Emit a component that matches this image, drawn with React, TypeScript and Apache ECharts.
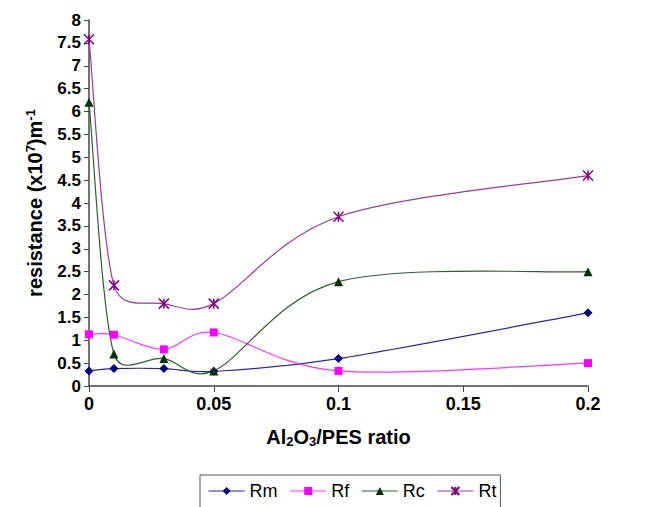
import React, { useEffect, useRef } from "react";
import * as echarts from "echarts";

const ratios = [0, 0.01, 0.03, 0.05, 0.1, 0.2];
const rm = [0.33, 0.38, 0.38, 0.32, 0.6, 1.6];
const rf = [1.13, 1.12, 0.8, 1.17, 0.33, 0.5];
const rc = [6.2, 0.7, 0.6, 0.33, 2.28, 2.5];
const rt = [7.58, 2.2, 1.8, 1.8, 3.7, 4.6];
const seriesNames = ["Rm", "Rf", "Rc", "Rt"];

const pair = (ys: number[]) => ratios.map((x, i) => [x, ys[i]]);

// Excel-style smoothed bezier path through pixel points
function excelSmoothPath(pts: number[][]): string {
  const dist = (a: number[], b: number[]) => Math.hypot(a[0] - b[0], a[1] - b[1]);
  let d = `M${pts[0][0]},${pts[0][1]}`;
  const n = pts.length;
  for (let i = 0; i < n - 1; i++) {
    const p0 = pts[Math.max(0, i - 1)];
    const p1 = pts[i];
    const p2 = pts[i + 1];
    const p3 = pts[Math.min(n - 1, i + 2)];
    const d12 = dist(p1, p2);
    const d02 = dist(p0, p2);
    const d13 = dist(p1, p3);
    let f1 = 1 / 6;
    let f2 = 1 / 6;
    if (d02 / 6 >= d12 / 2 && d02 > 0) f1 = d12 / (2 * d02);
    if (d13 / 6 >= d12 / 2 && d13 > 0) f2 = d12 / (2 * d13);
    const c1 = [p1[0] + (p2[0] - p0[0]) * f1, p1[1] + (p2[1] - p0[1]) * f1];
    const c2 = [p2[0] - (p3[0] - p1[0]) * f2, p2[1] - (p3[1] - p1[1]) * f2];
    d += ` C${c1[0]},${c1[1]} ${c2[0]},${c2[1]} ${p2[0]},${p2[1]}`;
  }
  return d;
}

export default function App() {
  const ref = useRef<HTMLDivElement>(null);
  useEffect(() => {
    if (!ref.current) return;
    const chart = echarts.init(ref.current, undefined, { renderer: "svg" });
    const font = "'Liberation Sans', Arial, sans-serif";
    const star = "path://M0,0L10,10M10,0L0,10M5,0L5,10";

    const defs = [
      { name: "Rm", ys: rm, symbol: "diamond", size: 9, mark: "#000080", line: "#2a2a9a" },
      { name: "Rf", ys: rf, symbol: "rect", size: 8, mark: "#ff00ff", line: "#ff33ff" },
      { name: "Rc", ys: rc, symbol: "triangle", size: 9, mark: "#003300", line: "#2f5f2f" },
      { name: "Rt", ys: rt, symbol: star, size: 10, mark: "#800080", line: "#9a3a9a" },
    ];

    const markerSeries = defs.map((s) => ({
      name: s.name,
      type: "line",
      data: pair(s.ys),
      symbol: s.symbol,
      symbolSize: s.size,
      z: 3,
      itemStyle:
        s.symbol === star
          ? { color: s.mark, borderColor: s.mark, borderWidth: 1.5 }
          : { color: s.mark },
      lineStyle: { color: s.line, width: 1.2, opacity: 0 },
    }));

    const curveSeries = defs.map((s) => ({
      name: s.name + "-curve",
      type: "custom",
      coordinateSystem: "cartesian2d",
      z: 1,
      silent: true,
      data: [[ratios[0], s.ys[0]]],
      renderItem: (params: any, api: any) => {
        if (params.dataIndex !== 0) return null;
        const pts = ratios.map((x, i) => api.coord([x, s.ys[i]]));
        return {
          type: "path",
          shape: { pathData: excelSmoothPath(pts) },
          style: { stroke: s.line, fill: "none", lineWidth: 1.2 },
        };
      },
    }));

    chart.setOption({
      animation: false,
      textStyle: { fontFamily: font },
      grid: { left: 89, right: 59, top: 20, bottom: 121, containLabel: false },
      legend: {
        data: defs.map((s) => ({
          name: s.name,
          lineStyle: { color: s.line, width: 1.2, opacity: 1 },
        })),
        top: 475,
        left: 200,
        itemWidth: 36,
        itemHeight: 10,
        itemGap: 12,
        padding: [7, 4, 20, 8],
        borderColor: "#555",
        borderWidth: 1,
        textStyle: { fontSize: 18, color: "#000", fontFamily: font },
      },
      xAxis: {
        type: "value",
        min: 0,
        max: 0.2,
        interval: 0.05,
        name: "Al{sub|2}O{sub|3}/PES ratio",
        nameLocation: "middle",
        nameGap: 40,
        nameTextStyle: {
          fontSize: 20,
          fontWeight: "bold",
          color: "#000",
          rich: { sub: { fontSize: 13, fontWeight: "bold", verticalAlign: "bottom", padding: [9, 0, 0, 0] } },
        },
        axisLine: { lineStyle: { color: "#444", width: 1.5 } },
        axisTick: { show: true, length: 6, lineStyle: { color: "#444" } },
        axisLabel: {
          fontSize: 18,
          fontWeight: "bold",
          color: "#000",
          margin: 9,
          formatter: (v: number) => String(Math.round(v * 100) / 100),
        },
        splitLine: { show: false },
      },
      yAxis: {
        type: "value",
        min: 0,
        max: 8,
        interval: 0.5,
        name: "resistance (x10{sup|7})m{sup|-1}",
        nameLocation: "middle",
        nameGap: 43,
        nameTextStyle: {
          fontSize: 20,
          fontWeight: "bold",
          color: "#000",
          rich: { sup: { fontSize: 13, fontWeight: "bold", verticalAlign: "top", padding: [0, 0, 9, 0] } },
        },
        axisLine: { show: true, lineStyle: { color: "#444", width: 1.5 } },
        axisTick: { show: true, length: 5, lineStyle: { color: "#444" } },
        axisLabel: { fontSize: 17, fontWeight: "bold", color: "#000", margin: 8 },
        splitLine: { show: false },
      },
      series: [...curveSeries, ...markerSeries],
    });
    return () => chart.dispose();
  }, []);
  return <div ref={ref} style={{ width: 647, height: 507, position: "absolute", left: 0, top: 0 }} />;
}
